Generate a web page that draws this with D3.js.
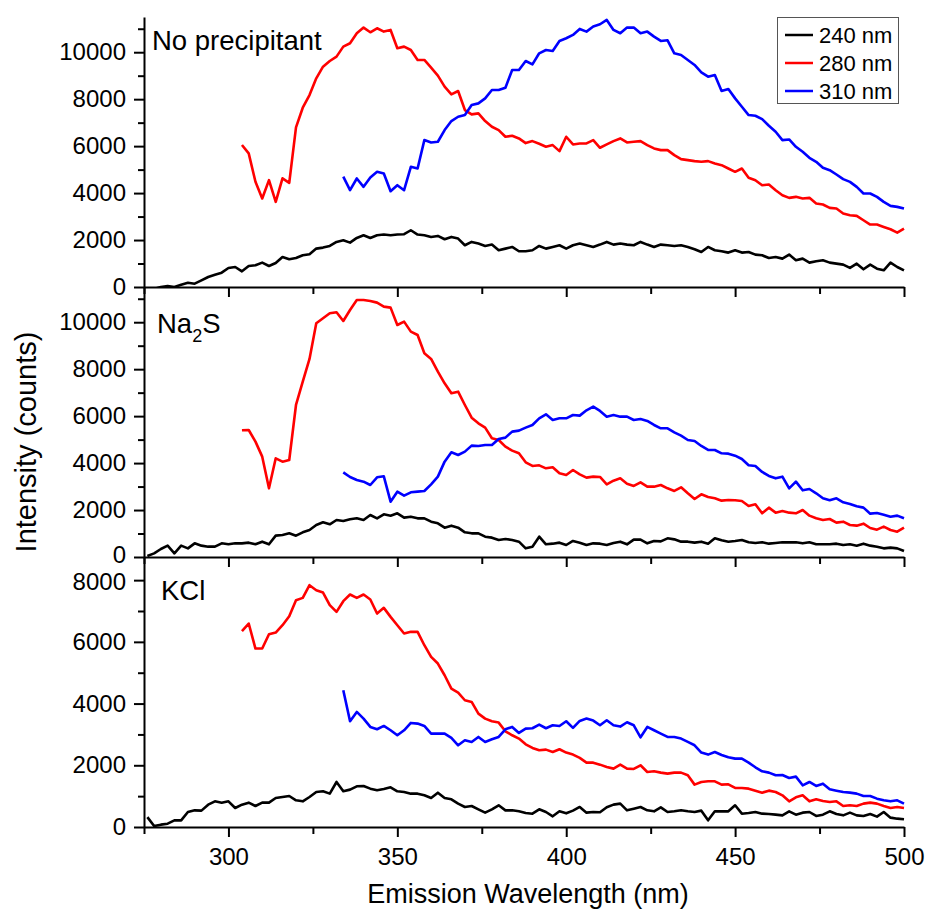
<!DOCTYPE html>
<html><head><meta charset="utf-8">
<script src="https://cdn.jsdelivr.net/npm/d3@7"></script>
<style>
body{margin:0;background:#fff;}
svg{display:block;}
text{font-family:"Liberation Sans",Arial,Helvetica,sans-serif;fill:#000;}
</style>
</head><body>
<svg id="chart" width="929" height="911"></svg>
<script>
// ---------------- DATA ----------------
const xDomain = [275, 500];
const xTicks = [300, 350, 400, 450, 500];
const xMinorTicks = [275, 325, 375, 425, 475];
const step = 2;               // nm between samples
const start240 = 276, start280 = 304, start310 = 334;
const seriesNames = ["240 nm", "280 nm", "310 nm"];
const panelNames = ["No precipitant", "Na2S", "KCl"];
const yMaxes = [11500, 11500, 8750];
const yTicksBig = [0, 2000, 4000, 6000, 8000, 10000];
const yMinorBig = [1000, 3000, 5000, 7000, 9000, 11000];
const yTicksSmall = [0, 2000, 4000, 6000, 8000];
const yMinorSmall = [1000, 3000, 5000, 7000];

// Panel 1: No precipitant
const p1_240 = [-150,-80,0,43,0,100,180,142,284,427,526,611,810,853,668,896,924,1038,896,1024,1280,1180,1237,1351,1394,1635,1678,1749,1920,1991,1891,2090,2204,2090,2204,2233,2204,2233,2247,2417,2233,2204,2133,2176,2033,2133,2062,1778,1920,1849,1749,1806,1564,1635,1706,1522,
 1522,1564,1749,1635,1706,1778,1635,1778,1849,1778,1706,1806,1920,1806,1849,1806,1778,1920,1806,1706,1806,1778,1749,1778,1706,1607,1493,1706,1564,1522,1465,1564,1465,1493,1380,1351,1237,1280,1209,1380,1138,1209,1038,1095,1138,1038,995,953,811,995,754,953,782,711,1038,853,711];
const p1_280 = [6050,5690,4480,3770,4553,3628,4627,4438,6800,7636,8177,8888,9385,9627,9812,10238,10381,10807,11049,10850,11020,10878,10949,10167,10238,10096,9670,9670,9343,9001,8532,8205,8347,7537,7352,7394,7067,6826,6683,6399,6442,6328,
 6129,6214,6100,5972,6044,5788,6400,6072,6115,6115,6257,5930,6072,6214,6328,6157,6186,6214,6044,5901,5830,5830,5617,5446,5404,5361,5333,5361,5261,5190,5048,4906,5048,4650,4550,4337,4366,4124,3911,3797,3840,3768,3797,3555,3513,3370,3342,3129,3057,3029,2844,2659,2659,2560,2460,2318,2489];
const p1_310 = [4700,4124,4622,4266,4664,4906,4835,4081,4337,4124,5119,5048,6257,6157,6186,6683,7067,7252,7323,7750,7821,8034,8390,8390,8489,9243,9243,
 9627,9485,9954,10096,10053,10480,10594,10736,10992,10878,11092,11191,11376,10949,10807,11049,11049,10807,10878,10665,10480,10508,9954,9883,9670,9456,9143,8958,9030,8347,8433,8034,7679,7323,7295,7153,6868,6612,6257,6285,5972,5759,5503,5333,5076,4977,4792,4593,4479,4266,3982,3982,3839,3626,3455,3413,3342];

// Panel 2: Na2S
const p2_240 = [43,156,341,483,156,483,369,582,483,440,440,582,540,582,582,611,540,653,540,909,937,1008,909,1051,1150,1363,1477,1392,1576,1534,1605,1647,1576,1789,1647,1818,1761,1860,1676,1718,1647,1647,1505,1434,1250,1335,1250,1051,1008,1008,866,824,724,767,724,653,
 369,440,866,540,568,611,511,682,611,511,582,568,511,596,653,540,738,738,582,682,667,795,752,653,653,611,653,568,795,710,653,682,724,625,596,625,568,596,625,625,625,582,625,540,540,540,568,511,540,483,568,483,440,369,398,369,256];
const p2_280 = [5400,5410,4913,4274,2925,4203,4061,4132,6475,7469,8435,9954,10167,10380,10423,10054,10522,10948,10948,10906,10835,10664,10622,9883,10025,9599,9457,8676,8435,7895,7398,6972,7043,6475,5936,5694,5510,5055,4984,4700,4530,4416,
 4033,3877,3905,3777,3820,3564,3493,3706,3521,3380,3422,3408,3096,3252,3351,3124,3025,3181,2996,2996,3067,2925,2812,2968,2712,2471,2670,2556,2499,2400,2428,2414,2386,2173,2244,1860,2102,1889,1960,1889,1860,2002,1761,1647,1576,1619,1463,1505,1363,1335,1420,1235,1164,1292,1150,1079,1250];
const p2_310 = [3607,3408,3280,3209,3067,3394,3436,2357,2783,2613,2755,2783,2812,3096,3422,4061,4459,4345,4487,4743,4729,4771,4771,5027,5084,5339,5382,
 5510,5623,5907,6078,5836,5907,5907,6049,6021,6248,6404,6220,5978,6049,5978,5978,5836,5878,5793,5623,5481,5481,5311,5169,4984,4942,4729,4558,4558,4416,4402,4317,4175,3905,3877,3621,3451,3351,3422,2925,3209,2840,2897,2712,2499,2414,2499,2329,2258,2158,2102,1846,1875,1803,1718,1761,1647];

// Panel 3: KCl
const p3_240 = [320,32,76,108,216,216,486,540,530,724,832,789,832,616,724,789,681,789,789,940,973,1005,865,832,973,1135,1157,1081,1459,1157,1211,1319,1330,1243,1189,1232,1286,1157,1135,1081,1081,1027,940,1113,940,897,757,649,681,573,465,573,703,540,540,508,
 454,432,573,486,346,508,443,530,649,465,486,476,638,724,757,540,595,649,540,508,638,486,508,540,508,486,530,216,508,508,508,703,432,454,486,432,422,400,378,508,400,465,486,357,400,508,422,378,465,378,357,422,335,486,303,270,249];
const p3_280 = [6345,6594,5783,5783,6248,6302,6540,6832,7351,7426,7837,7675,7599,7189,6972,7318,7534,7426,7534,7372,6918,7102,6810,6540,6270,6324,6324,5891,5513,5297,4918,4486,4356,4108,4054,3675,3513,3427,3384,3102,2973,2865,
 2681,2562,2486,2508,2432,2519,2411,2346,2238,2086,2086,2021,1946,1892,2021,1892,1881,2000,1784,1805,1762,1730,1762,1762,1676,1373,1459,1481,1481,1373,1384,1265,1265,1243,1178,1113,1178,1135,1027,832,962,1027,832,897,843,811,832,681,703,681,757,789,757,681,616,649,616];
const p3_310 = [4432,3427,3729,3513,3243,3167,3275,3135,2973,3135,3373,3351,3275,3027,3027,3027,2886,2648,2811,2757,2919,2757,2843,2919,3167,3243,3048,
 3189,3200,3319,3200,3297,3275,3427,3211,3438,3513,3448,3297,3459,3297,3254,3394,3297,2908,3243,3135,3027,2919,2919,2865,2757,2649,2411,2346,2432,2335,2259,2216,2216,2086,1935,1805,1762,1676,1686,1589,1632,1351,1459,1330,1405,1222,1178,1135,1113,1081,1005,1005,919,865,832,865,757];

// ---------------- LAYOUT ----------------
const svg = d3.select("#chart");
const left = 144, right = 904;
const panelTop = [17, 287, 557], panelBot = [287, 557, 827];
const colors = ["#000000", "#ff0000", "#0000ff"];
const starts = [start240, start280, start310];
const panelsData = [[p1_240, p1_280, p1_310], [p2_240, p2_280, p2_310], [p3_240, p3_280, p3_310]];
const tickFont = 24;

const x = d3.scaleLinear().domain(xDomain).range([left, right]);

svg.append("rect").attr("width", 929).attr("height", 911).attr("fill", "#fff");

const defs = svg.append("defs");

panelsData.forEach((series, pi) => {
  const y = d3.scaleLinear().domain([0, yMaxes[pi]]).range([panelBot[pi], panelTop[pi]]);
  const clipId = "clip" + pi;
  defs.append("clipPath").attr("id", clipId).append("rect")
    .attr("x", left).attr("y", panelTop[pi]).attr("width", right - left + 2).attr("height", panelBot[pi] - panelTop[pi]);

  const g = svg.append("g").attr("clip-path", `url(#${clipId})`);
  series.forEach((vals, si) => {
    const pts = vals.map((v, i) => [starts[si] + i * step, v]);
    const line = d3.line().x(d => x(d[0])).y(d => y(d[1]));
    g.append("path").datum(pts).attr("d", line)
      .attr("fill", "none").attr("stroke", colors[si]).attr("stroke-width", 2.6)
      .attr("stroke-linejoin", "round");
  });

  const big = pi < 2;
  // y axis
  const yAx = svg.append("g").attr("transform", `translate(${left},0)`)
    .call(d3.axisLeft(y).tickValues(big ? yTicksBig : yTicksSmall).tickSize(10).tickSizeOuter(0).tickPadding(8).tickFormat(d3.format("d")));
  const yMin = svg.append("g").attr("transform", `translate(${left},0)`)
    .call(d3.axisLeft(y).tickValues(big ? yMinorBig : yMinorSmall).tickSize(6).tickSizeOuter(0).tickFormat(""));
  yMin.select(".domain").remove();

  // keep the shared-edge labels (0 of panel 2, 8000 of panel 3) from touching
  if (pi === 1) yAx.selectAll(".tick text").filter(d => d === 0).attr("y", -2);
  if (pi === 2) yAx.selectAll(".tick text").filter(d => d === 8000).attr("y", 2);

  // x axis
  const xAx = svg.append("g").attr("transform", `translate(0,${panelBot[pi]})`)
    .call(d3.axisBottom(x).tickValues(xTicks).tickSize(10).tickSizeOuter(0).tickPadding(11)
      .tickFormat(pi === 2 ? d3.format("d") : () => ""));
  const xMin = svg.append("g").attr("transform", `translate(0,${panelBot[pi]})`)
    .call(d3.axisBottom(x).tickValues(xMinorTicks).tickSize(7).tickSizeOuter(0).tickFormat(""));
  xMin.select(".domain").remove();

  [yAx, yMin, xAx, xMin].forEach(a => {
    a.selectAll("path,line").attr("stroke", "#000").attr("stroke-width", 2);
    a.selectAll("text").attr("font-size", tickFont).attr("font-family", '"Liberation Sans",Arial,sans-serif').attr("fill", "#000");
  });
});

// panel labels
svg.append("text").attr("x", 152).attr("y", 50).attr("font-size", 27.5).text(panelNames[0]);
const na = svg.append("text").attr("x", 157).attr("y", 333).attr("font-size", 27.5);
na.append("tspan").text("Na");
na.append("tspan").attr("font-size", 18).attr("dy", 9).text("2");
na.append("tspan").attr("dy", -9).text("S");
svg.append("text").attr("x", 161).attr("y", 600).attr("font-size", 27.5).text(panelNames[2]);

// axis titles
svg.append("text").attr("transform", "translate(36,442) rotate(-90)").attr("text-anchor", "middle")
  .attr("font-size", 29).text("Intensity (counts)");
svg.append("text").attr("x", 528).attr("y", 903).attr("text-anchor", "middle")
  .attr("font-size", 27).text("Emission Wavelength (nm)");

// legend
const lg = svg.append("g");
lg.append("rect").attr("x", 777.5).attr("y", 17.5).attr("width", 121).attr("height", 86)
  .attr("fill", "#fff").attr("stroke", "#555").attr("stroke-width", 1);
seriesNames.forEach((n, i) => {
  const yy = 35 + i * 28;
  lg.append("line").attr("x1", 785).attr("x2", 813).attr("y1", yy).attr("y2", yy)
    .attr("stroke", colors[i]).attr("stroke-width", 2.5);
  lg.append("text").attr("x", 819).attr("y", yy + 8).attr("font-size", 22).text(n);
});
</script>
</body></html>
